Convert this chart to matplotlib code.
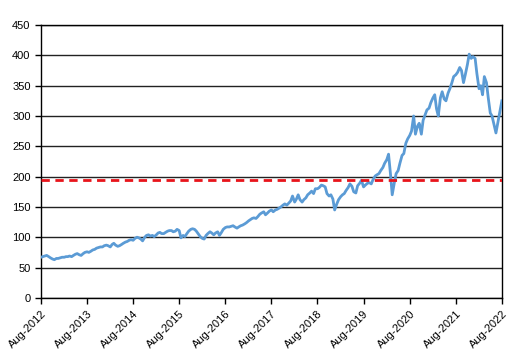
import matplotlib
matplotlib.use("Agg")
import matplotlib.pyplot as plt
import matplotlib.dates as mdates
import pandas as pd

plt.rcParams['font.family'] = ['Liberation Sans', 'DejaVu Sans']

# price, twice a month (1st and 15th), Aug-2012 .. Aug-2022
price = [
    # Aug-2012 .. Jul-2013
    67, 68, 69, 70, 68, 66, 64, 63, 65, 65, 66, 67,
    67, 68, 68, 69, 68, 70, 72, 73, 71, 70, 73, 75,
    # Aug-2013 .. Jul-2014
    76, 75, 77, 79, 80, 82, 83, 84, 84, 86, 87, 86,
    84, 88, 90, 87, 85, 86, 88, 90, 92, 93, 95, 96,
    # Aug-2014 .. Jul-2015
    95, 98, 100, 99, 97, 94, 100, 103, 104, 102, 103, 101,
    104, 107, 108, 106, 106, 108, 110, 111, 111, 109, 110, 113,
    # Aug-2015 .. Jul-2016
    111, 99, 103, 101, 106, 110, 113, 114, 113, 110, 105, 101,
    98, 97, 103, 106, 109, 107, 104, 107, 109, 103, 108, 113,
    # Aug-2016 .. Jul-2017
    116, 117, 117, 118, 119, 117, 115, 117, 119, 120, 122, 124,
    127, 129, 131, 132, 131, 134, 138, 140, 142, 137, 140, 143,
    # Aug-2017 .. Jul-2018
    145, 142, 145, 146, 148, 150, 153, 155, 153, 156, 160, 168,
    158, 163, 170, 162, 158, 162, 165, 170, 173, 176, 172, 180,
    # Aug-2018 .. Jul-2019
    180, 182, 186, 185, 183, 172, 168, 170, 163, 145, 155, 162,
    167, 170, 172, 177, 182, 188, 184, 175, 173, 185, 189, 194,
    # Aug-2019 .. Jul-2020
    183, 186, 189, 190, 188, 195, 201, 203, 205, 210, 215, 222,
    228, 237, 205, 170, 190, 205, 210, 222, 235, 238, 255, 262,
    # Aug-2020 .. Jul-2021
    268, 275, 300, 270, 283, 288, 270, 293, 302, 310, 313, 322,
    330, 335, 312, 300, 330, 340, 328, 325, 338, 345, 355, 365,
    # Aug-2021 .. Jul-2022
    368, 372, 380, 375, 355, 368, 385, 402, 395, 398, 395, 370,
    345, 350, 335, 365, 355, 330, 305, 300, 285, 272, 290, 305,
    # Aug-2022
    325,
]
dates = pd.date_range("2012-08-01", periods=len(price), freq="SMS")

reference_level = 195

fig = plt.figure(figsize=(5.19, 3.58), dpi=100)
ax = fig.add_axes([0.079, 0.168, 0.888, 0.762])

ax.plot(dates, price, color="#5B9BD5", lw=2, zorder=3)
ax.axhline(reference_level, color="#E8141B", lw=2, ls=(0, (3, 2)), zorder=4)

ax.set_ylim(0, 450)
ax.set_yticks(range(0, 451, 50))
ax.set_xlim(pd.Timestamp("2012-08-01"), pd.Timestamp("2022-08-01"))
ax.xaxis.set_major_locator(mdates.MonthLocator(bymonth=8, bymonthday=1))
ax.xaxis.set_major_formatter(mdates.DateFormatter("%b-%Y"))

ax.grid(axis="y", color="#222222", lw=1, zorder=1)
for s in ax.spines.values():
    s.set_color("black")
    s.set_linewidth(1)

ax.tick_params(axis="both", labelsize=8, length=4, width=1, direction="out")
for lbl in ax.get_xticklabels():
    lbl.set_rotation(45)
    lbl.set_ha("right")
    lbl.set_rotation_mode("anchor")

plt.savefig("out.png", dpi=100)
